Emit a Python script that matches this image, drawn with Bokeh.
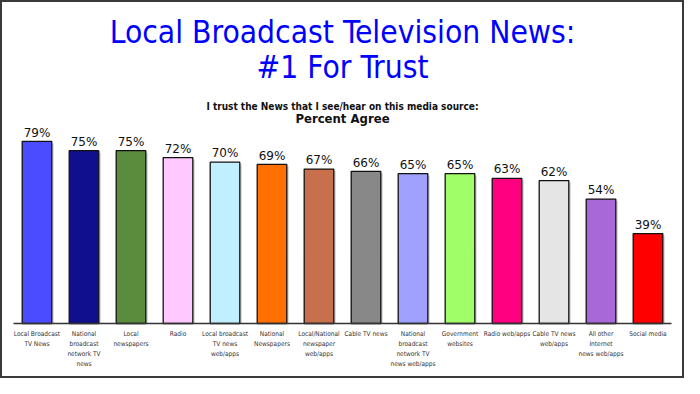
from bokeh.plotting import figure
from bokeh.models import Range1d, FactorRange, ColumnDataSource
from bokeh.transform import dodge
from bokeh.core.properties import value
from bokeh.embed import file_html
from bokeh.resources import INLINE

# ---- data ----
categories = [
    "Local Broadcast TV News", "National broadcast network TV news", "Local newspapers",
    "Radio", "Local broadcast TV news web/apps", "National Newspapers",
    "Local/National newspaper web/apps", "Cable TV news",
    "National broadcast network TV news web/apps", "Government websites",
    "Radio web/apps", "Cable TV news web/apps", "All other Internet news web/apps",
    "Social media",
]
tick_labels = [
    "Local Broadcast\nTV News", "National\nbroadcast\nnetwork TV\nnews", "Local\nnewspapers",
    "Radio", "Local broadcast\nTV news\nweb/apps", "National\nNewspapers",
    "Local/National\nnewspaper\nweb/apps", "Cable TV news",
    "National\nbroadcast\nnetwork TV\nnews web/apps", "Government\nwebsites",
    "Radio web/apps", "Cable TV news\nweb/apps", "All other\nInternet\nnews web/apps",
    "Social media",
]
percent_agree = [79, 75, 75, 72, 70, 69, 67, 66, 65, 65, 63, 62, 54, 39]
bar_colors = [
    "#4B4BFF", "#10108F", "#5B8B3D", "#FFC8FF", "#C0F0FF", "#FF7000", "#C8704C",
    "#888888", "#A0A0FF", "#A0FF68", "#FF0080", "#E5E5E5", "#A868D8", "#FF0000",
]
title_line1 = "Local Broadcast Television News:"
title_line2 = "#1 For Trust"
subtitle_line1 = "I trust the News that I see/hear on this media source:"
subtitle_line2 = "Percent Agree"

# ---- layout constants ----
W, H = 684, 378
baseline_px = 323          # pixel row of y=0 from figure top
px_per_unit = 2.305        # pixels per percentage point
n = len(categories)
cat_px = 47.0
pad = (W - n * cat_px) / (n * cat_px)
DESC = 0.236               # font descent fraction

src = ColumnDataSource(dict(
    cat=categories,
    val=percent_agree,
    shadow_top=[v - 2 / px_per_unit for v in percent_agree],
    color=bar_colors,
    lbl=[f"{v}%" for v in percent_agree],
    tick=tick_labels,
    zero=[0] * n,
))

p = figure(
    width=W, height=H, output_backend="svg", toolbar_location=None,
    x_range=FactorRange(factors=categories, range_padding=pad, range_padding_units="percent"),
    y_range=Range1d(-(H - baseline_px) / px_per_unit, baseline_px / px_per_unit),
    min_border=0, min_border_left=0, min_border_right=0, min_border_top=0, min_border_bottom=0,
)
p.axis.visible = False
p.grid.visible = False
p.background_fill_color = "white"
p.border_fill_color = "white"
p.outline_line_color = "#3a3a3a"
p.outline_line_width = 3

FONT = value("DejaVu Sans")
FONT_C = value("DejaVu Sans Condensed")

# shadows
p.vbar(x=dodge("cat", 2 / cat_px, range=p.x_range), top="shadow_top", bottom=0,
       width=0.63, source=src, fill_color="#b8b8b8", fill_alpha=0.6, line_color=None)
# bars
p.vbar(x="cat", top="val", bottom=0, width=0.63, source=src,
       fill_color="color", line_color="#111111", line_width=1.3)

# baseline axis line
p.segment(x0=[0], x1=[n], y0=[0], y1=[0], line_color="#333333", line_width=1.5)

# value labels
p.text(x="cat", y="val", text="lbl", source=src, text_align="center",
       text_baseline="alphabetic", y_offset=-6 - DESC * 12, text_font=FONT,
       text_font_size="12px", text_color="#111111")

# category labels
p.text(x="cat", y="zero", text="tick", source=src, text_align="center",
       text_baseline="top", y_offset=6, text_font=FONT_C, text_font_size="6.5px",
       text_line_height=1.25, text_color="#333333")

def ypix(page_y):
    return (baseline_px - page_y) / px_per_unit

def head(text, page_y, size, bold=False, color="#111111"):
    p.text(x=[n / 2], y=[ypix(page_y)], text=[text], text_align="center",
           text_baseline="alphabetic", y_offset=-DESC * size, text_font=FONT_C,
           text_font_size=f"{size}px", text_font_style="bold" if bold else "normal",
           text_color=color)

head(title_line1, 38.5, 31.5, color="#0000FF")
head(title_line2, 73.5, 31.5, color="#0000FF")
head(subtitle_line1, 108.3, 10, bold=True)
head(subtitle_line2, 121, 13, bold=True)

open("out.html", "w").write(file_html(p, INLINE))
